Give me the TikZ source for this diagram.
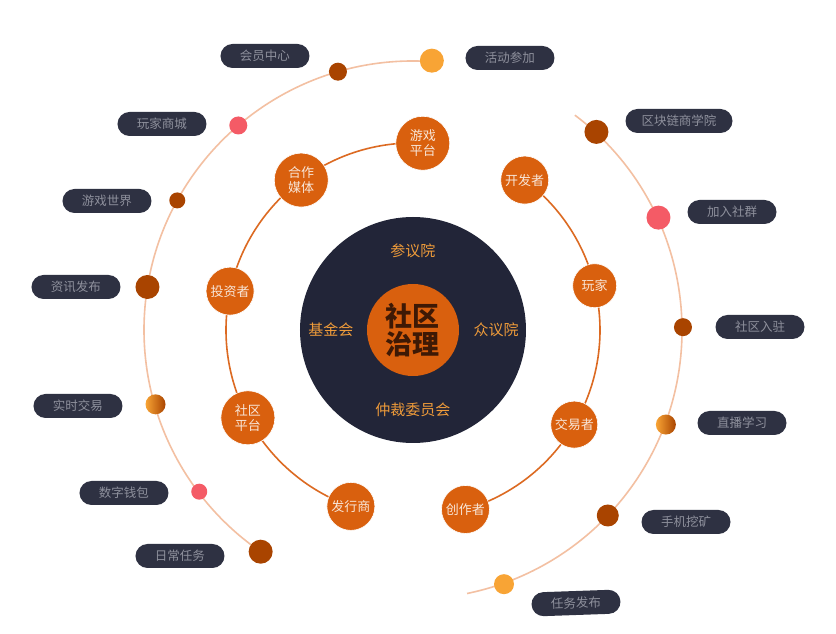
\documentclass[tikz,border=0pt]{standalone}
\usepackage{fontspec}
\newfontfamily\cjk{Noto Sans CJK SC}
\usepackage{tikz}
\usetikzlibrary{positioning}
\definecolor{navybg}{HTML}{222538}
\definecolor{coreorange}{HTML}{D9600E}
\definecolor{coretext}{HTML}{3E1905}
\definecolor{seattext}{HTML}{EE9B3A}
\definecolor{ringline}{HTML}{DC6A22}
\definecolor{ringtext}{HTML}{F8E6D8}
\definecolor{outline}{HTML}{F3C0A2}
\definecolor{spotbrown}{HTML}{A94400}
\definecolor{spotpink}{HTML}{F45B66}
\definecolor{spotyellow}{HTML}{F8A435}
\definecolor{pillbg}{HTML}{2E3142}
\definecolor{pilltext}{HTML}{8E909C}
\tikzset{
    %Define style for the centre circles
    hub/.style={
           circle,
           fill=navybg,
           minimum size=226pt,
           inner sep=0pt},
    core/.style={
           circle,
           fill=coreorange,
           minimum size=92pt,
           inner sep=0pt,
           text=coretext,
           align=center,
           font=\cjk\bfseries\fontsize{27}{28}\selectfont},
    seat/.style={
           text=seattext,
           font=\cjk\fontsize{15}{16}\selectfont},
    %Define style for ring members
    member/.style={
           circle,
           fill=coreorange,
           draw=white, line width=0.6pt,
           inner sep=0pt,
           minimum size=48pt,
           text=ringtext,
           align=center,
           font=\cjk\fontsize{13}{15.5}\selectfont},
    %Define style for spots and labels
    spot/.style={
           circle,
           inner sep=0pt},
    pillbox/.style={
           rectangle,
           rounded corners=12pt,
           fill=pillbg,
           minimum width=89pt,
           minimum height=24pt,
           text=pilltext,
           font=\cjk\fontsize{12.5}{14}\selectfont},
    % Define ring styles
    inring/.style={draw=ringline, line width=1.6pt},
    outring/.style={draw=outline, line width=1.6pt}
}

\begin{document}
\begin{tikzpicture}[x=1pt,y=1pt]
\useasboundingbox[fill=white] (-413,-304) rectangle (423,330);

 %rings
\coordinate (c) at (0,0);
\draw[outring] (c) ++(86:269) arc[start angle=86, end angle=235.5, radius=269];
\draw[outring] (c) ++(53:269) arc[start angle=53, end angle=-78.4, radius=269];
\draw[inring] (c) ++(87:187) arc[start angle=87, end angle=250.6, radius=187];
\draw[inring] (c) ++(53.3:187) arc[start angle=53.3, end angle=-73.7, radius=187];

 %centre
\node[hub] (hub) at (c) {};
\node[core] (core) at (c) {社区\\治理};
\node[seat, above=22pt of core] (s1) {参议院};
\node[seat, left=10pt of core] (s2) {基金会};
\node[seat, right=11pt of core] (s3) {众议院};
\node[seat, below=23pt of core] (s4) {仲裁委员会};

 %ring members
\node[member, minimum size=54pt] (m1) at (87:187) {游戏\\平台};
\node[member, minimum size=54pt] (m2) at (126.7:187) {合作\\媒体};
\node[member] (m3) at (168:187) {投资者};
\node[member, minimum size=54pt] (m4) at (208:187) {社区\\平台};
\node[member] (m5) at (250.6:187) {发行商};
\node[member] (m6) at (53.3:187) {开发者};
\node[member, minimum size=44pt] (m7) at (13.7:187) {玩家};
\node[member, minimum size=47pt] (m8) at (-30.4:187) {交易者};
\node[member] (m9) at (-73.7:187) {创作者};

 %spots
\node[spot, fill=spotyellow, minimum size=24pt] (d1) at (86:270) {};
\node[spot, fill=spotbrown, minimum size=18pt] (d2) at (106.2:269) {};
\node[spot, fill=spotpink, minimum size=18pt] (d3) at (130.5:269) {};
\node[spot, fill=spotbrown, minimum size=16pt] (d4) at (151.2:269) {};
\node[spot, fill=spotbrown, minimum size=24pt] (d5) at (170.8:269) {};
\node[spot, left color=spotyellow, right color=spotbrown, minimum size=20pt] (d6) at (196.1:268) {};
\node[spot, fill=spotpink, minimum size=16pt] (d7) at (217.1:268) {};
\node[spot, fill=spotbrown, minimum size=24pt] (d8) at (235.5:269) {};
\node[spot, fill=spotbrown, minimum size=24pt] (d9) at (47.2:270) {};
\node[spot, fill=spotpink, minimum size=24pt] (d10) at (24.6:270) {};
\node[spot, fill=spotbrown, minimum size=18pt] (d11) at (0.6:270) {};
\node[spot, left color=spotyellow, right color=spotbrown, minimum size=20pt] (d12) at (-20.5:270) {};
\node[spot, fill=spotbrown, minimum size=22pt] (d13) at (-43.6:269) {};
\node[spot, fill=spotyellow, minimum size=20pt] (d14) at (-70.3:270) {};

 %labels
\node[pillbox] (p1) at (97,272) {活动参加};
\node[pillbox] (p2) at (-148,274) {会员中心};
\node[pillbox] (p3) at (-251,206) {玩家商城};
\node[pillbox] (p4) at (-306,129) {游戏世界};
\node[pillbox] (p5) at (-337,43) {资讯发布};
\node[pillbox] (p6) at (-335,-76) {实时交易};
\node[pillbox] (p7) at (-289,-163) {数字钱包};
\node[pillbox] (p8) at (-233,-226) {日常任务};
\node[pillbox, minimum width=107pt] (p9) at (266,209) {区块链商学院};
\node[pillbox] (p10) at (319,118) {加入社群};
\node[pillbox] (p11) at (347,3) {社区入驻};
\node[pillbox] (p12) at (329,-93) {直播学习};
\node[pillbox] (p13) at (273,-192) {手机挖矿};
\node[pillbox, rotate=2] (p14) at (163,-273) {任务发布};
\end{tikzpicture}
\end{document}
